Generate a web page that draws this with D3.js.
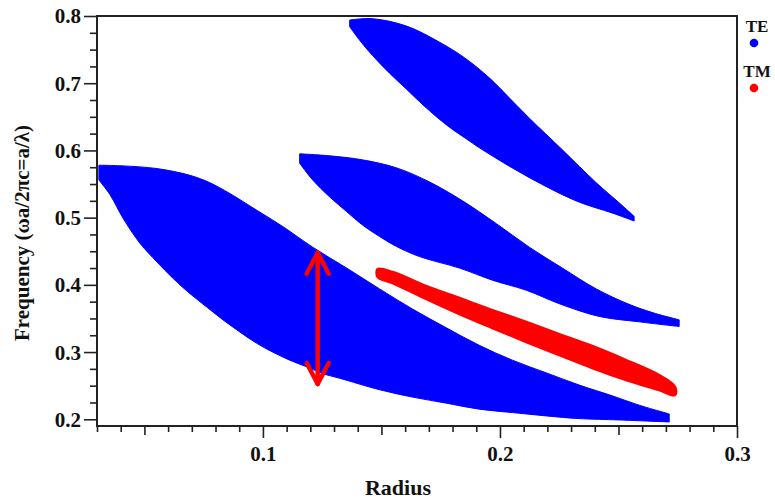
<!DOCTYPE html>
<html>
<head>
<meta charset="utf-8">
<script src="https://cdn.jsdelivr.net/npm/d3@7"></script>
<style>
  html, body { margin: 0; padding: 0; background: #fff; }
  svg { display: block; }
</style>
</head>
<body>
<svg id="chart" width="775" height="503" font-family="'Liberation Serif', 'Times New Roman', 'DejaVu Serif', serif" font-weight="bold"></svg>
<script>
// ---- Data (radius r/a vs normalized frequency) ----
// TE band 1 (large, lower-left)
const te1UpperR = [0.0308,0.0410,0.0553,0.0692,0.0776,0.0860,0.0974,0.1083,0.1210,0.1353,0.1492,0.1631,0.1774,0.1913,0.2052,0.2196,0.2334,0.2473,0.2587,0.2714];
const te1UpperF = [0.578,0.577,0.573,0.563,0.552,0.536,0.511,0.487,0.456,0.425,0.394,0.364,0.336,0.310,0.288,0.269,0.251,0.235,0.221,0.208];
const te1LowerR = [0.0308,0.0355,0.0410,0.0481,0.0553,0.0620,0.0692,0.0763,0.0831,0.0902,0.0974,0.1041,0.1113,0.1185,0.1252,0.1324,0.1492,0.1631,0.1774,0.1913,0.2052,0.2195,0.2334,0.2503,0.2714];
const te1LowerF = [0.556,0.534,0.499,0.462,0.434,0.410,0.387,0.367,0.348,0.330,0.313,0.300,0.288,0.278,0.268,0.261,0.244,0.233,0.224,0.215,0.210,0.205,0.201,0.199,0.196];
// TE band 2 (middle)
const te2UpperR = [0.1155,0.1281,0.1420,0.1564,0.1703,0.1842,0.1985,0.2124,0.2263,0.2406,0.2545,0.2650,0.2756];
const te2UpperF = [0.595,0.592,0.586,0.574,0.553,0.525,0.491,0.456,0.425,0.394,0.371,0.358,0.348];
const te2LowerR = [0.1155,0.1210,0.1281,0.1353,0.1420,0.1492,0.1564,0.1661,0.1829,0.1968,0.2111,0.2250,0.2419,0.2587,0.2756];
const te2LowerF = [0.581,0.556,0.531,0.509,0.489,0.472,0.457,0.442,0.425,0.407,0.392,0.372,0.353,0.345,0.338];
// TE band 3 (top)
const te3UpperR = [0.1366,0.1463,0.1606,0.1745,0.1850,0.1955,0.2040,0.2124,0.2263,0.2406,0.2503,0.2566];
const te3UpperF = [0.794,0.796,0.785,0.761,0.738,0.708,0.678,0.648,0.601,0.552,0.522,0.502];
const te3LowerR = [0.1366,0.1408,0.1463,0.1534,0.1606,0.1690,0.1774,0.1859,0.1913,0.2052,0.2196,0.2335,0.2473,0.2566];
const te3LowerF = [0.784,0.764,0.741,0.715,0.691,0.663,0.638,0.617,0.604,0.574,0.546,0.523,0.507,0.495];
// TM band
const tmUpperR = [0.1484,0.1547,0.1690,0.1829,0.1968,0.2111,0.2250,0.2389,0.2532,0.2671,0.2739];
const tmUpperF = [0.4235,0.4191,0.3982,0.3804,0.3625,0.3447,0.3268,0.3090,0.2881,0.2658,0.2480];
const tmLowerR = [0.1484,0.1547,0.1690,0.1829,0.1968,0.2111,0.2250,0.2389,0.2532,0.2671,0.2739];
const tmLowerF = [0.4116,0.4027,0.3789,0.3566,0.3358,0.3150,0.2956,0.2762,0.2584,0.2435,0.2360];
// Gap arrow
const arrowR = 0.1231;
const arrowF = [0.2509, 0.4493];
// Axis ticks
const xTickLabels = [0.1, 0.2, 0.3];
const yTickLabels = [0.2, 0.3, 0.4, 0.5, 0.6, 0.7, 0.8];
const legendItems = ["TE", "TM"];
const legendColors = ["#0000ff", "#ff0000"];

// ---- Layout ----
const svg = d3.select("#chart");
const mLeft = 97, mRight = 737, mTop = 16, mBottom = 426;
const x = d3.scaleLinear().domain([0.03, 0.3]).range([mLeft, mRight]);
const y = d3.scaleLinear().domain([0.19, 0.8]).range([mBottom, mTop]);

const edge = d3.line().x(d => x(d[0])).y(d => y(d[1])).curve(d3.curveCatmullRom.alpha(0.5));
function bandPath(uR, uF, lR, lF) {
  const up = uR.map((r, i) => [r, uF[i]]);
  const low = lR.map((r, i) => [r, lF[i]]).reverse();
  return edge(up) + "L" + edge(low).slice(1) + "Z";
}
const closed = d3.line().x(d => x(d[0])).y(d => y(d[1])).curve(d3.curveCatmullRomClosed.alpha(0.5));

const bands = [
  {d: bandPath(te1UpperR, te1UpperF, te1LowerR, te1LowerF), c: legendColors[0], sw: 1},
  {d: bandPath(te2UpperR, te2UpperF, te2LowerR, te2LowerF), c: legendColors[0], sw: 1},
  {d: bandPath(te3UpperR, te3UpperF, te3LowerR, te3LowerF), c: legendColors[0], sw: 1},
  {d: closed(tmUpperR.map((r, i) => [r, tmUpperF[i]]).concat(tmLowerR.map((r, i) => [r, tmLowerF[i]]).reverse())), c: legendColors[1], sw: 2.5}
];
svg.append("g").selectAll("path").data(bands).join("path")
  .attr("d", d => d.d)
  .attr("fill", d => d.c)
  .attr("stroke", d => d.c)
  .attr("stroke-width", d => d.sw)
  .attr("stroke-linejoin", "round");

// Arrow
const ax = x(arrowR), ay1 = y(arrowF[0]), ay2 = y(arrowF[1]);
const ag = svg.append("g").attr("stroke", "#ff0000").attr("stroke-width", 4.5)
  .attr("stroke-linecap", "round").attr("stroke-linejoin", "round").attr("fill", "none");
ag.append("line").attr("x1", ax).attr("x2", ax).attr("y1", ay1 - 1).attr("y2", ay2 + 1);
ag.append("path").attr("d", `M${ax-11},${ay2+22} L${ax},${ay2+1} L${ax+11},${ay2+22}`);
ag.append("path").attr("d", `M${ax-11},${ay1-22} L${ax},${ay1-1} L${ax+11},${ay1-22}`);

// Axes
const axisColor = "#222";
const xAxis = d3.axisBottom(x)
  .tickValues(d3.range(3, 31).map(v => v / 100))
  .tickSize(0).tickFormat("");
const gx = svg.append("g").attr("transform", `translate(0,${mBottom})`).call(xAxis);
gx.attr("font-family", null);
gx.select(".domain").remove();
gx.selectAll(".tick line").remove();
gx.selectAll(".tick").append("line")
  .attr("y1", 0)
  .attr("y2", d => {
    const k = Math.round(d * 100);
    return k % 10 === 0 ? 12 : (k % 5 === 0 ? 9 : 6);
  })
  .attr("stroke", axisColor).attr("stroke-width", 1.6);
gx.selectAll(".tick").filter(d => xTickLabels.some(v => Math.abs(v - d) < 1e-6))
  .append("text").attr("y", 35).attr("text-anchor", "middle").attr("fill", "#111")
  .attr("font-size", 21).text(d => d3.format(".1f")(d));

const yAxis = d3.axisLeft(y)
  .tickValues(d3.range(8, 33).map(v => v * 0.025))
  .tickSize(0).tickFormat("");
const gy = svg.append("g").attr("transform", `translate(${mLeft},0)`).call(yAxis);
gy.attr("font-family", null);
gy.select(".domain").remove();
gy.selectAll(".tick line").remove();
gy.selectAll(".tick").append("line")
  .attr("x1", 0)
  .attr("x2", d => (Math.round(d * 1000) % 100 === 0) ? -13 : -7)
  .attr("stroke", axisColor).attr("stroke-width", 1.6);
gy.selectAll(".tick").filter(d => yTickLabels.some(v => Math.abs(v - d) < 1e-6))
  .append("text").attr("x", -16).attr("dy", "0.33em").attr("text-anchor", "end").attr("fill", "#111")
  .attr("font-size", 21).text(d => d3.format(".1f")(d));

// Frame
svg.append("path")
  .attr("d", `M${mLeft},${mTop} L${mLeft},${mBottom} L${mRight},${mBottom} L${mRight},${mTop} Z`)
  .attr("fill", "none").attr("stroke", axisColor).attr("stroke-width", 2);

// Axis titles
svg.append("text").attr("x", (mLeft + mRight) / 2 - 19).attr("y", 495).attr("fill", "#111")
  .attr("text-anchor", "middle").attr("font-size", 22).text("Radius");
svg.append("text").attr("fill", "#111")
  .attr("transform", `translate(29,${(mTop + mBottom) / 2 + 12}) rotate(-90)`)
  .attr("text-anchor", "middle").attr("font-size", 21)
  .text("Frequency (ωa/2πc=a/λ)");

// Legend
const lg = svg.append("g").selectAll("g").data(legendItems).join("g")
  .attr("transform", (d, i) => `translate(754,${32 + i * 45})`);
lg.append("text").attr("x", 3).attr("y", 0).attr("text-anchor", "middle").attr("fill", "#111")
  .attr("font-size", 17).text(d => d);
lg.append("circle").attr("cx", 0).attr("cy", 11).attr("r", 4.3)
  .attr("fill", (d, i) => legendColors[i]);
</script>
</body>
</html>
